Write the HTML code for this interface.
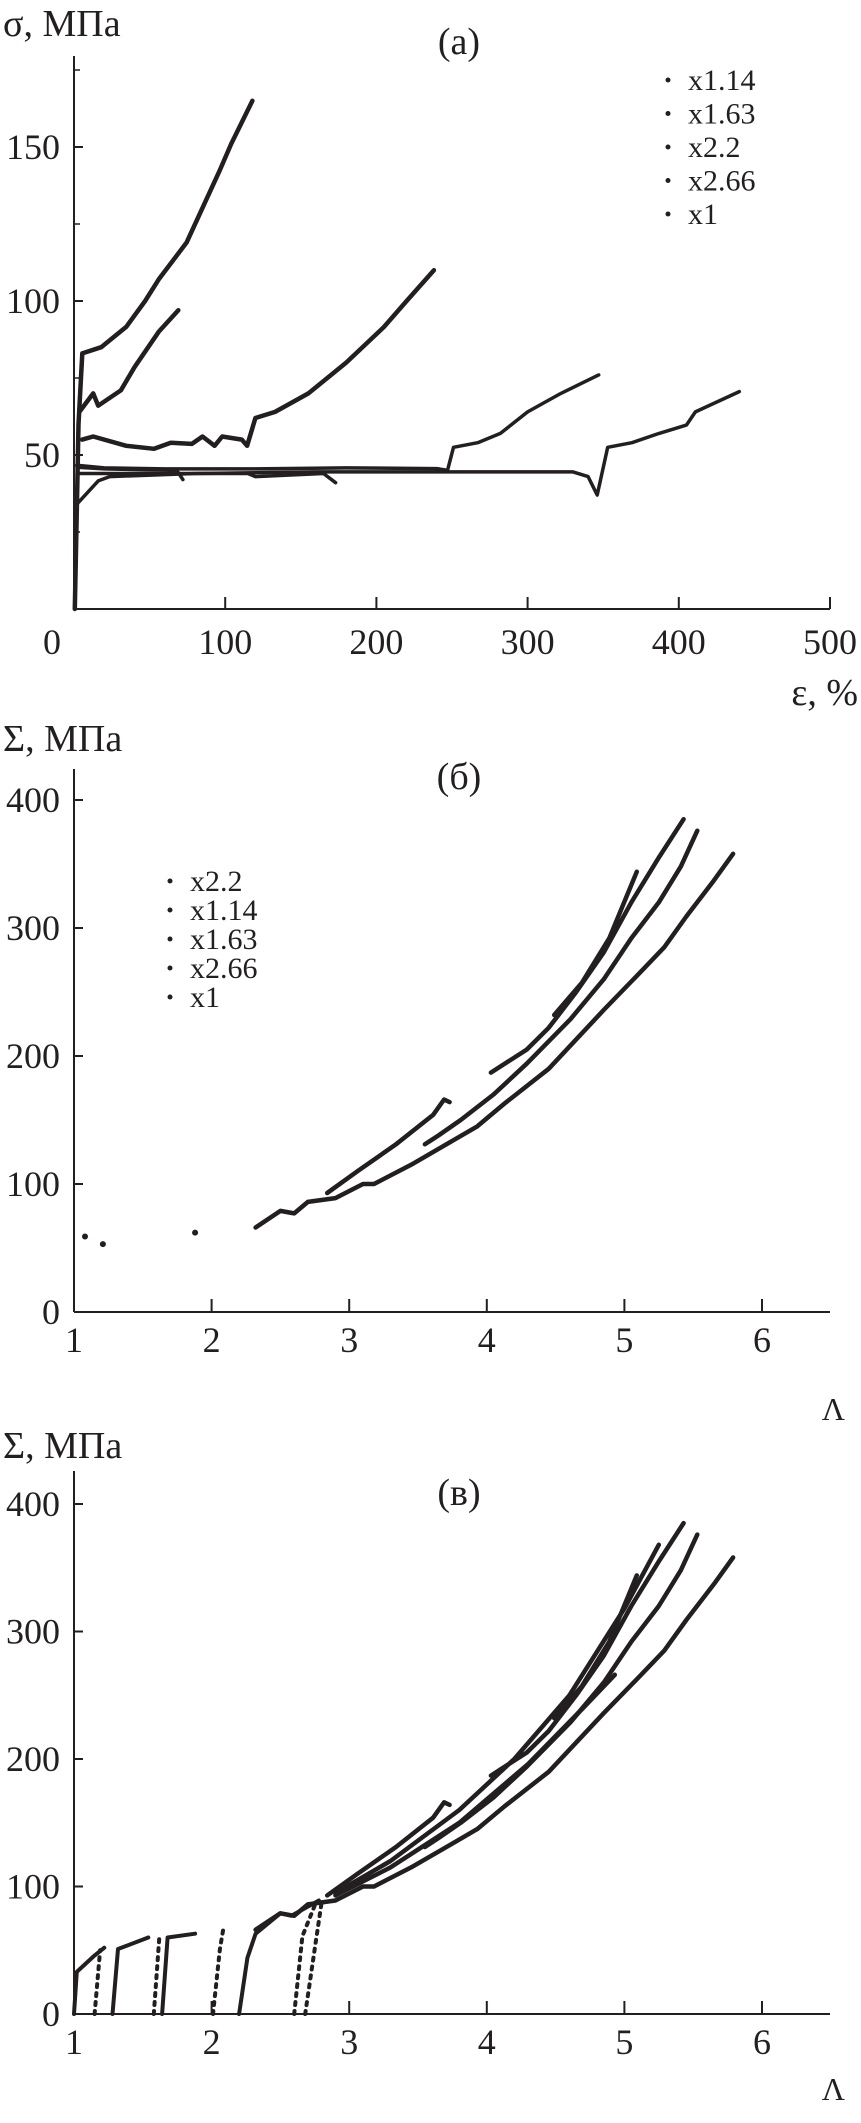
<!DOCTYPE html>
<html><head><meta charset="utf-8"><style>
html,body{margin:0;padding:0;background:#fff}
svg{display:block}
text{font-family:"Liberation Serif",serif;fill:#231f20}
</style></head><body>
<svg id="fig" width="861" height="2123" viewBox="0 0 861 2123" xmlns="http://www.w3.org/2000/svg"></svg>
<script>
// ---------- Panel (a) data: strain % vs stress MPa ----------
const aTicksX = [0,100,200,300,400,500];
const aTicksY = [50,100,150];
const aLegend = ["x1.14","x1.63","x2.2","x2.66","x1"];
const aS266_e = [0.5,2,3,5.5,18,34.5,47,56,74.5,96,104,118];
const aS266_s = [0,35,60,83,85,91.6,100,107,119,142,151,165];
const aS22_e = [3.6,12.7,16,31,40,56,69];
const aS22_s = [64,70,66,71,78.5,90,97];
const aS163_e = [5.5,12.7,34.5,53,64,78,85,93,98,111,114.5,120,133,155,180,205,220,238];
const aS163_s = [55,56,53,52,54,53.6,56,53,56,55,53,62,64,70,80,91.6,100,110];
const aS114_e = [1.8,20,60,120,180,240,247,251,267,282,300,322,347];
const aS114_s = [46.7,45.8,45.5,45.5,45.8,45.6,45,52.5,54,57,64,70,76];
const aS1_e = [1.8,16,23.6,80,160,250,330,340,346,353,369,387,405,411,440];
const aS1_s = [34,41.6,43,44,44.5,44.5,44.5,43,37,52.5,54,57,59.7,64,70.6];
const aP1_e = [2,20,68,72];
const aP1_s = [46,45.5,45,42];
const aP2_e = [3,60,115,120,165,173];
const aP2_s = [44,44,44,43,44,41];

// ---------- Panel (б) data: Λ vs Σ ----------
const bTicksX = [1,2,3,4,5,6];
const bTicksY = [0,100,200,300,400];
const bLegend = ["x2.2","x1.14","x1.63","x2.66","x1"];
const bS1_L = [2.32,2.5,2.6,2.7,2.9,3.1,3.18,3.45,3.77,3.93,4.13,4.45,4.85,5.13,5.29,5.45,5.65,5.79];
const bS1_S = [66,79,77,86,89,100,100,115,135,145,163,190,236,267,285,309,337,358];
const bS2_L = [3.55,3.65,3.81,4.05,4.29,4.61,4.85,5.05,5.25,5.41,5.53];
const bS2_S = [131,138,150,170,194,229,260,292,320,348,376];
const bS3_L = [2.84,3.06,3.34,3.61,3.69,3.73];
const bS3_S = [93,110,131,154,166,164];
const bS4_L = [4.03,4.29,4.45,4.65,4.85,5.05,5.25,5.43];
const bS4_S = [187,205,222,250,281,320,355,385];
const bS5_L = [4.49,4.69,4.89,5.09];
const bS5_S = [232,257,292,344];
const bPts_L = [1.08,1.21,1.88];
const bPts_S = [59,53,62];

// ---------- Panel (в) extra data ----------
const cI1_L = [1,1.02,1.14,1.22]; const cI1_S = [0,33,45,52];
const cI2_L = [1.15,1.19]; const cI2_S = [0,50];
const cI3_L = [1.28,1.32,1.54]; const cI3_S = [0,51,60];
const cI4_L = [1.58,1.62]; const cI4_S = [0,60];
const cI5_L = [1.64,1.68,1.88]; const cI5_S = [0,60,63];
const cI6_L = [2.01,2.06,2.09]; const cI6_S = [0,51,70];
const cI7_L = [2.2,2.26,2.32,2.5,2.58,2.78]; const cI7_S = [0,44,63,79,77,89];
const cI8_L = [2.6,2.66,2.76]; const cI8_S = [0,61,88];
const cI9_L = [2.68,2.74,2.8]; const cI9_S = [0,44,88];
const cX1_L = [2.9,3.3,3.8,4.2,4.6,5.0,5.25]; const cX1_S = [95,120,160,200,250,318,368];
const cX2_L = [2.9,3.3,3.8,4.3,4.7,4.93]; const cX2_S = [93,115,150,196,240,266];

const NS="http://www.w3.org/2000/svg";
const svg=document.getElementById('fig');
function mk(tag,attrs,parent){const e=document.createElementNS(NS,tag);for(const k in attrs)e.setAttribute(k,attrs[k]);(parent||svg).appendChild(e);return e;}
function txt(x,y,s,size,anchor,parent){const t=mk('text',{x:x,y:y,'font-size':size,'text-anchor':anchor||'start'},parent);t.textContent=s;return t;}

const ax={x:v=>74+v*1.512, y:v=>609-v*3.08};
const bx={x:v=>74+(v-1)*137.6, y:v=>1312-v*1.28};
const cx={x:v=>74+(v-1)*137.6, y:v=>2014-v*1.275};

function line(g,scale,X,Y,w,dash){
  const pts=X.map((v,i)=>scale.x(v).toFixed(1)+','+scale.y(Y[i]).toFixed(1)).join(' ');
  const p=mk('polyline',{points:pts,fill:'none',stroke:'#231f20','stroke-width':w||4.5,'stroke-linejoin':'round','stroke-linecap':'round'},g);
  if(dash)p.setAttribute('stroke-dasharray',dash);
  return p;
}

// ===== Panel a =====
const ga=mk('g',{});


const aTitle=txt(3,36,'σ, МПа',38,'start',ga);

const aLab=txt(459,54,'(a)',38,'middle',ga);

mk('line',{x1:74,y1:56,x2:74,y2:609,stroke:'#231f20','stroke-width':2},ga);
mk('line',{x1:74,y1:609,x2:830,y2:609,stroke:'#231f20','stroke-width':2},ga);
aTicksX.forEach(v=>{mk('line',{x1:ax.x(v),y1:609,x2:ax.x(v),y2:597,stroke:'#231f20','stroke-width':2},ga);
  const t=txt(v===0?52:ax.x(v),654,String(v),36,'middle',ga);
  });
[25,75,125,175].forEach(v=>mk('line',{x1:74,y1:ax.y(v),x2:80,y2:ax.y(v),stroke:'#231f20','stroke-width':1.5},ga));
aTicksY.forEach(v=>{mk('line',{x1:74,y1:ax.y(v),x2:83,y2:ax.y(v),stroke:'#231f20','stroke-width':2},ga);
  const t=txt(60,ax.y(v)+12,String(v),36,'end',ga);
  });
const aXt=txt(858,705,'ε, %',38,'end',ga);

line(ga,ax,aS266_e,aS266_s);
line(ga,ax,aS22_e,aS22_s);
line(ga,ax,aS163_e,aS163_s);
line(ga,ax,aS114_e,aS114_s,3.5);
line(ga,ax,aS1_e,aS1_s,3.5);
line(ga,ax,aP1_e,aP1_s,3.5);
line(ga,ax,aP2_e,aP2_s,3.5);
aLegend.forEach((s,i)=>{const y=90+i*33.5;
  const gl=mk('g',{},ga);
  
  mk('circle',{cx:668,cy:y-10,r:2.5,fill:'#231f20'},gl);txt(688,y,s,30,'start',gl);});

function frame(g,sc,top,title,titleY,lab,labY,xlabY,lamY,id){
  const t1=txt(3,titleY,title,38,'start',g);
  const t2=txt(459,labY,lab,38,'middle',g);
  mk('line',{x1:74,y1:top,x2:74,y2:sc.y(0),stroke:'#231f20','stroke-width':2},g);
  mk('line',{x1:74,y1:sc.y(0),x2:830,y2:sc.y(0),stroke:'#231f20','stroke-width':2},g);
  bTicksX.forEach(v=>{mk('line',{x1:sc.x(v),y1:sc.y(0),x2:sc.x(v),y2:sc.y(0)-13,stroke:'#231f20','stroke-width':2},g);
    const t=txt(sc.x(v),xlabY,String(v),36,'middle',g);});
  bTicksY.forEach(v=>{mk('line',{x1:74,y1:sc.y(v),x2:83,y2:sc.y(v),stroke:'#231f20','stroke-width':2},g);
    const t=txt(60,sc.y(v)+12,String(v),36,'end',g);});
  const t3=txt(845,lamY,'Λ',32,'end',g);
}
// ===== Panel б =====
const gb=mk('g',{});


frame(gb,bx,769,'Σ, МПа',751,'(б)',789,1352,1420,'b');
line(gb,bx,bS1_L,bS1_S);
line(gb,bx,bS2_L,bS2_S);
line(gb,bx,bS3_L,bS3_S);
line(gb,bx,bS4_L,bS4_S);
line(gb,bx,bS5_L,bS5_S);
bPts_L.forEach((v,i)=>{const c=mk('circle',{cx:bx.x(v),cy:bx.y(bPts_S[i]),r:3,fill:'#231f20'},gb);
  });
bLegend.forEach((s,i)=>{const y=891+i*29;
  const gl=mk('g',{},gb);
  
  mk('circle',{cx:170,cy:y-10,r:2.5,fill:'#231f20'},gl);txt(190,y,s,30,'start',gl);});

// ===== Panel в =====
const gc=mk('g',{});


frame(gc,cx,1471,'Σ, МПа',1458,'(в)',1505,2054,2100,'c');
[[bS1_L,bS1_S],[bS2_L,bS2_S],[bS3_L,bS3_S],[bS4_L,bS4_S],[bS5_L,bS5_S],[cX1_L,cX1_S],[cX2_L,cX2_S]].forEach(p=>{
  const l=line(gc,cx,p[0],p[1]);});
[[cI1_L,cI1_S,0],[cI2_L,cI2_S,1],[cI3_L,cI3_S,0],[cI4_L,cI4_S,1],[cI5_L,cI5_S,0],[cI6_L,cI6_S,1],[cI7_L,cI7_S,0],[cI8_L,cI8_S,1],[cI9_L,cI9_S,1]].forEach(p=>{
  const l=line(gc,cx,p[0],p[1],4,p[2]?'3 6':null);});
</script>
</body></html>
